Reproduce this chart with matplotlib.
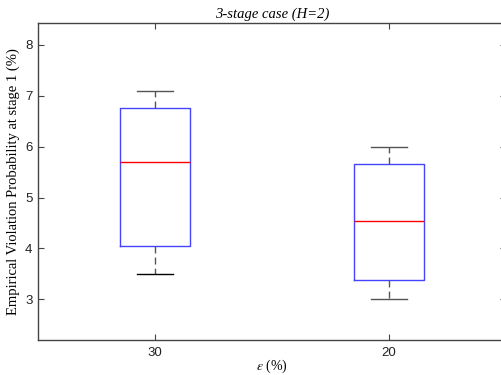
import numpy as np
import matplotlib
matplotlib.use('Agg')
import matplotlib.pyplot as plt

# box statistics (percent)
labels = ['30', '20']
q1 = [4.05, 3.38]
medians = [5.70, 4.54]
q3 = [6.75, 5.65]
whislo = [3.50, 3.00]
whishi = [7.10, 6.00]

plt.rcParams['mathtext.fontset'] = 'stix'

fig = plt.figure(figsize=(5.01, 3.75), dpi=100)
ax = fig.add_axes([38/501, 35/375, 468/501, 317/375])

stats = []
for i in range(len(labels)):
    stats.append(dict(label=labels[i], q1=q1[i], med=medians[i], q3=q3[i],
                      whislo=whislo[i], whishi=whishi[i], fliers=[]))

grey = '#555555'
bp = ax.bxp(stats, positions=[1, 2], widths=0.3, showfliers=False,
            boxprops=dict(color='#4444ff', linewidth=1.0),
            medianprops=dict(color='red', linewidth=1.0),
            whiskerprops=dict(color=grey, linewidth=1.0, linestyle=(0, (5, 3))),
            capprops=dict(color=grey, linewidth=1.0), capwidths=0.15)
bp['caps'][0].set_color('black')

ax.set_xlim(0.5, 2.5)
ax.set_ylim(2.2, 8.43)
ax.set_yticks([3, 4, 5, 6, 7, 8])
ax.set_xticks([1, 2])
ax.set_xticklabels(labels)

for s in ax.spines.values():
    s.set_color('#444444')
    s.set_linewidth(1.0)
ax.tick_params(direction='in', top=True, right=True, length=4, width=0.8,
               colors='#444444', labelsize=9.5, labelcolor='#222222')
ax.tick_params(axis='x', pad=5)
ax.tick_params(axis='y', pad=4)
for t in ax.get_xticklabels() + ax.get_yticklabels():
    t.set_family('Liberation Sans')

ax.set_title('3-stage case (H=2)', family='Liberation Serif', style='italic',
             fontsize=10.5, pad=4)
ax.set_xlabel(r'$\epsilon$ (%)', family='Liberation Serif', fontsize=10, labelpad=-1)
ax.set_ylabel('Empirical Violation Probability at stage 1 (%)',
              family='Liberation Serif', fontsize=10.5, labelpad=4)

fig.savefig('out.png', dpi=100)
